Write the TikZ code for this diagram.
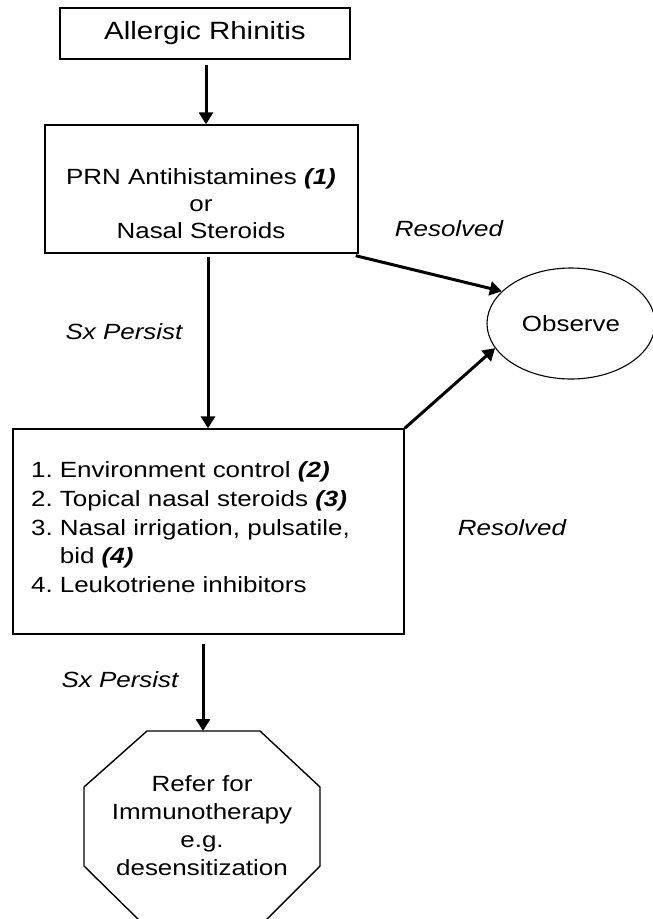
\documentclass[tikz,border=0pt]{standalone}
\usepackage{fontspec}
\setmainfont{Liberation Sans}[FakeStretch=1.18]
\usetikzlibrary{arrows.meta,calc,shapes.geometric}
\begin{document}
\begin{tikzpicture}[x=1pt,y=-1pt,
  box/.style={draw, line width=1.4pt, inner sep=0pt},
  arr/.style={line width=3pt, -{Triangle[length=12pt,width=14pt]}},
  lbl/.style={font=\fontsize{22}{27}\selectfont\itshape, inner sep=0pt},
  txt/.style={font=\fontsize{22}{27}\selectfont, align=center, inner sep=0pt}]
\clip (0,0) rectangle (653,919);
\fill[white] (0,0) rectangle (653,919);
% boxes
\node[box, minimum width=290pt, minimum height=51pt, font=\fontsize{25}{30}\selectfont] (b1) at (205,33.5) {Allergic Rhinitis};
\node[box, minimum width=313pt, minimum height=128pt] (b2) at (201.5,189) {};
\node[txt] (b2t) at (201,204) {PRN Antihistamines \textbf{\textit{(1)}}\\or\\Nasal Steroids};
\node[draw, ellipse, line width=1.1pt, minimum width=168pt, minimum height=111pt, txt] (obs) at (571,323.5) {Observe};
\node[box, minimum width=391pt, minimum height=205pt] (b3) at (208.5,531.5) {};
\node[anchor=west, inner sep=0pt, font=\fontsize{22}{28.7}\selectfont] (b3t) at (31,529.5)
  {\begin{tabular}{@{}l@{\hspace{7pt}}l@{}}
   1. & Environment control \textbf{\textit{(2)}}\\
   2. & Topical nasal steroids \textbf{\textit{(3)}}\\
   3. & Nasal irrigation, pulsatile,\\
      & bid \textbf{\textit{(4)}}\\
   4. & Leukotriene inhibitors
   \end{tabular}};
% octagon
\draw[box] (147,731) -- (260,731) -- (320,787) -- (320,866) -- (264,922) -- (141,922) -- (84,866) -- (84,787) -- cycle;
\coordinate (octtop) at (203,731);
\node[txt, font=\fontsize{22}{28}\selectfont] (oct) at (202,826) {Refer for\\Immunotherapy\\e.g.\\desensitization};
% labels
\node[lbl] (r1) at (449,229) {Resolved};
\node[lbl] (s1) at (124,332) {Sx Persist};
\node[lbl] (r2) at (512,528) {Resolved};
\node[lbl] (s2) at (120,680) {Sx Persist};
% arrows
\draw[arr] ($(b1.south)+(1,5)$) -- ($(b2.north)+(4.5,0)$);
\draw[arr] ($(b2.south)+(6.5,3)$) -- ($(b3.north)+(-0.5,0)$);
\draw[arr] ($(b3.south)+(-5.5,9)$) -- (octtop);
\draw[arr] ($(b2.south east)+(-3,2)$) -- (obs.155);
\draw[arr] (b3.north east) -- (obs.198);
\end{tikzpicture}
\end{document}
